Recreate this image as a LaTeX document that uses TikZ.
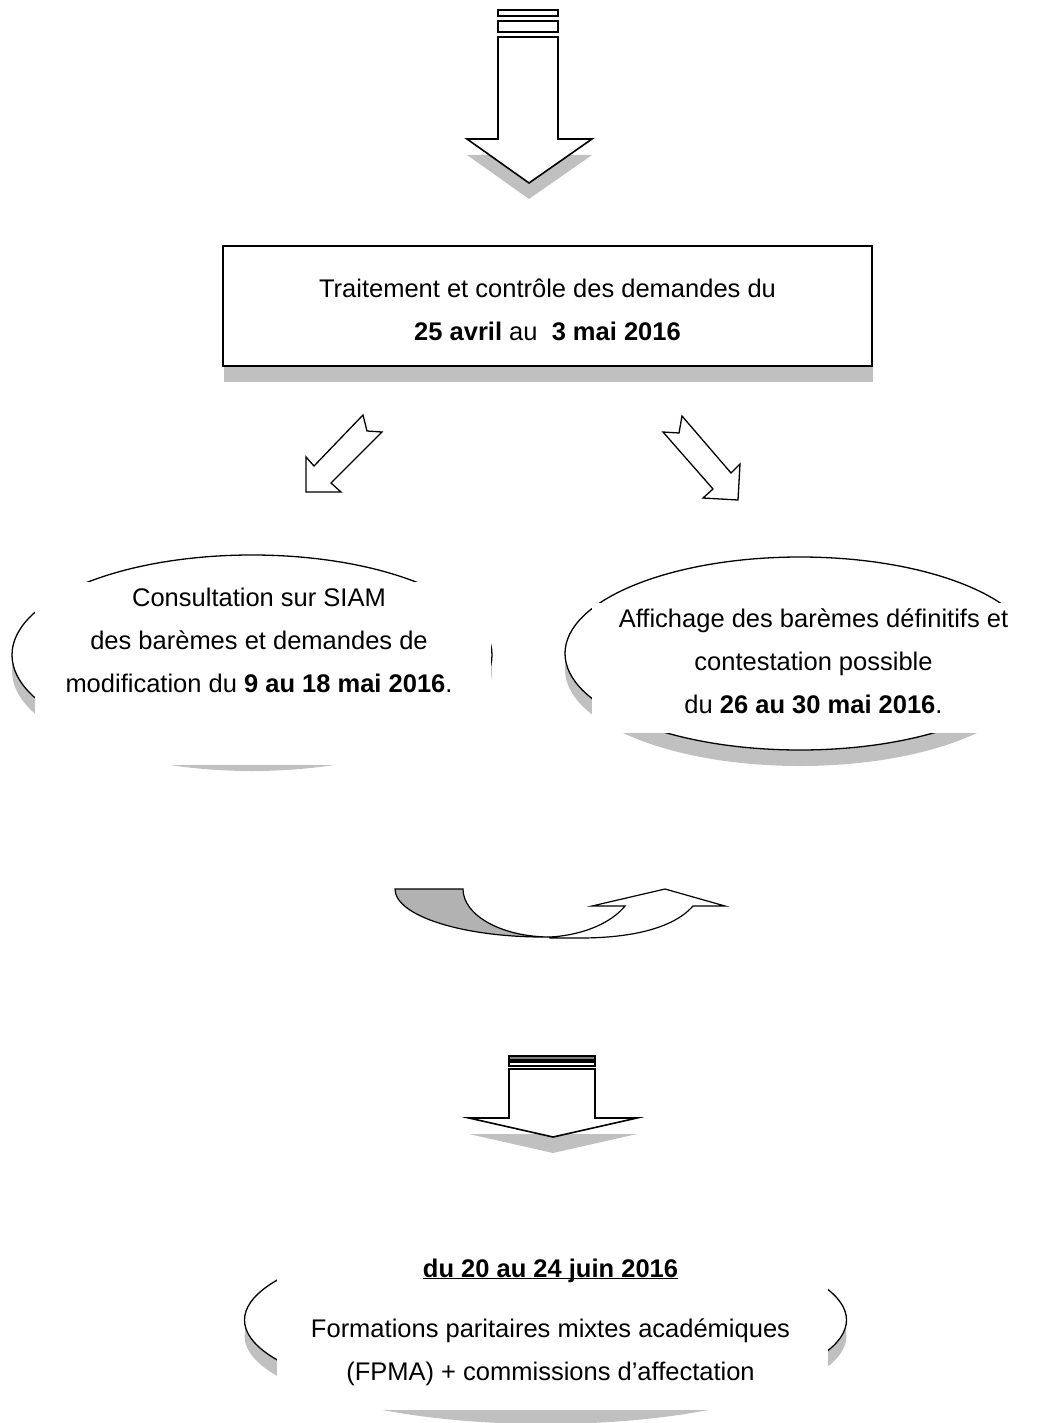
\documentclass[tikz,border=0pt]{standalone}
\usepackage{fontspec}
\setmainfont{Liberation Sans}
\usetikzlibrary{positioning,shapes.geometric,shadows}
\definecolor{shadowgray}{RGB}{192,192,192}
\definecolor{bendgray}{RGB}{178,178,178}

\begin{document}
\begin{tikzpicture}[
  x=1pt, y=-1pt,
  font=\fontsize{25.5pt}{43pt}\selectfont,
  block_main/.style={rectangle, draw, line width=1.6pt, fill=white, inner sep=0pt, align=center,
    minimum width=649pt, minimum height=120pt, text height=70pt,
    drop shadow={shadow xshift=1pt, shadow yshift=-16pt, opacity=1, fill=shadowgray}},
  bubble/.style={ellipse, draw, line width=1.3pt, fill=white,
    drop shadow={shadow xshift=0pt, shadow yshift=-16pt, opacity=1, fill=shadowgray}},
  pane/.style={rectangle, fill=white, inner sep=0pt},
  label_text/.style={inner sep=0pt, align=center},
  bigarrow/.style={draw, line width=1.6pt, fill=white, line join=miter},
  arrow_shadow/.style={fill=shadowgray}
  ]
\useasboundingbox (0,0) rectangle (1040,1423);

\fill[arrow_shadow] (467,155) -- (592,155) -- (529,199) -- cycle;
\draw[bigarrow] (498,37) -- (558,37) -- (558,139) -- (592,139) -- (529,183) -- (467,139) -- (498,139) -- cycle;
\draw[bigarrow, line width=1.3pt] (498,10) rectangle (558,16);
\draw[bigarrow, line width=1.3pt] (498,21) rectangle (558,32);

\node[block_main] (dates) at (547.5,306) {Traitement et contrôle des demandes du\\ \textbf{25 avril} au\ \ \textbf{3 mai 2016}};

\draw[bigarrow, line width=1.3pt] (363,415) -- (314,466) -- (306,457) -- (306,492) -- (341,492) -- (331,483) -- (382,432) -- (367,431) -- cycle;
\draw[bigarrow, line width=1.3pt] (682,416) -- (731,473) -- (740,464) -- (738,500) -- (703,498) -- (713,489) -- (663,432) -- (679,433) -- cycle;

\node[bubble, minimum width=480pt, minimum height=200pt] (consult) at (252,655) {};
\node[pane, minimum width=456pt, minimum height=183pt] (consult_pane) at (263,673.5) {};
\node[label_text, below=6pt of consult_pane.north, xshift=-4pt] (consult_text) {Consultation sur SIAM\\des barèmes et demandes de\\modification du \textbf{9 au 18 mai 2016}.};

\node[bubble, minimum width=470pt, minimum height=193pt] (display) at (800,653.5) {};
\node[pane, minimum width=453pt, minimum height=130pt] (display_pane) at (818.5,668) {};
\node[label_text, below=6pt of display_pane.north, xshift=-5pt] (display_text) {Affichage des barèmes définitifs et\\contestation possible\\du \textbf{26 au 30 mai 2016}.};

\draw[line width=1.2pt, fill=bendgray] (395,889) -- (463,889) .. controls (463,915.5) and (502,937) .. (550,937) .. controls (464,938) and (395,916) .. (395,889) -- cycle;
\draw[line width=1.2pt, fill=white] (550,937) .. controls (585,935) and (612,922) .. (625,906) -- (592,906) -- (665,889) -- (725,906) -- (693,906) .. controls (670,932) and (620,938) .. (580,938) -- (550,938) -- cycle;

\fill[arrow_shadow] (469,1134) -- (637,1134) -- (553,1153) -- cycle;
\draw[bigarrow] (509,1069) -- (595,1069) -- (595,1118) -- (637,1118) -- (553,1137) -- (469,1118) -- (509,1118) -- cycle;
\draw[bigarrow, line width=1.2pt, fill=gray] (509,1056) rectangle (595,1060);
\draw[bigarrow, line width=1.2pt] (509,1062) rectangle (595,1066);

\node[bubble, minimum width=602pt, minimum height=176pt] (fpma) at (545.5,1320) {};
\node[pane, minimum width=551pt, minimum height=185pt] (fpma_pane) at (552.5,1317.5) {};
\node[label_text, below=52pt of fpma_pane.north, xshift=-2pt] (fpma_text) {\underline{\smash{\textbf{du 20 au 24 juin 2016}}}\\[17pt]Formations paritaires mixtes académiques\\(FPMA) + commissions d’affectation};
\end{tikzpicture}
\end{document}
